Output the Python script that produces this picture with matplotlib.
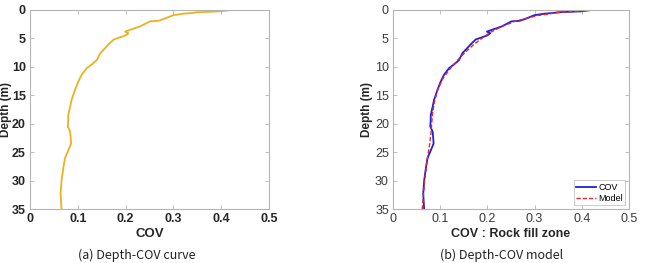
import matplotlib.pyplot as plt

# measured COV vs depth (rock fill zone)
cov_depth = [0, 0.24, 0.4, 0.5, 0.65, 0.9, 1.6, 1.9, 2.0, 2.3, 2.9, 3.5, 3.8, 4.1, 4.5,
             4.9, 5.2, 6.1, 7.6, 8.8, 9.6, 10.2, 11.4, 12.6, 14.1, 15.8, 17.0, 18.5,
             19.3, 20.5, 21.4, 22.3, 23.5, 24.7, 26.1, 27.6, 30.0, 32.3, 35]
cov_value = [0.421, 0.398, 0.349, 0.342, 0.321, 0.300, 0.279, 0.269, 0.251, 0.244,
             0.230, 0.209, 0.199, 0.206, 0.199, 0.185, 0.175, 0.164, 0.147, 0.140,
             0.129, 0.119, 0.108, 0.101, 0.094, 0.087, 0.084, 0.080, 0.080, 0.079,
             0.084, 0.085, 0.086, 0.080, 0.073, 0.070, 0.066, 0.064, 0.066]

# fitted model
model_depth = [0, 0.5, 1, 2, 3, 4, 5, 6, 8, 10, 12, 14, 16, 18, 20, 22, 24, 26, 28, 30, 32, 35]
model_value = [0.42, 0.345, 0.305, 0.258, 0.228, 0.205, 0.188, 0.172, 0.146, 0.124, 0.106,
               0.095, 0.088, 0.084, 0.082, 0.080, 0.077, 0.073, 0.070, 0.067, 0.065, 0.062]

xticks = [0, 0.1, 0.2, 0.3, 0.4, 0.5]
yticks = [0, 5, 10, 15, 20, 25, 30, 35]

plt.rcParams['font.family'] = ['Liberation Sans', 'DejaVu Sans']

fig = plt.figure(figsize=(6.45, 2.63), dpi=100)
W, H = 645, 263
ax1 = fig.add_axes([30 / W, 1 - 209 / H, 239 / W, 199 / H])
ax2 = fig.add_axes([393 / W, 1 - 209 / H, 236 / W, 199 / H])


def style(ax, bold_ticks, label_x):
    ax.set_xlim(0, 0.5)
    ax.set_ylim(35, 0)
    ax.set_xticks(xticks)
    ax.set_xticklabels(["0", "0.1", "0.2", "0.3", "0.4", "0.5"])
    ax.set_yticks(yticks)
    for s in ax.spines.values():
        s.set_color('#b4b4b4')
        s.set_linewidth(0.8)
    ax.tick_params(direction='in', length=3, width=0.6, color='#b4b4b4',
                   top=True, right=True, labelsize=9, pad=3,
                   labelcolor='#262626' if bold_ticks else '#3a3a3a')
    for lab in ax.get_xticklabels() + ax.get_yticklabels():
        lab.set_fontweight('bold' if bold_ticks else 'normal')
    ax.set_ylabel('Depth (m)', fontsize=8.5, fontweight='bold', color='#262626')
    ax.yaxis.set_label_coords(label_x, 0.5)


ax1.plot(cov_value, cov_depth, color='#EDB120', lw=1.3)
style(ax1, True, -18 / 239)
ax1.set_xlabel('COV', fontsize=9.5, fontweight='bold', color='#262626', labelpad=2)

ax2.plot(cov_value, cov_depth, color='#1f1fd8', lw=1.3, label='COV')
ax2.plot(model_value, model_depth, color='#e8262a', lw=1.0, ls=(0, (3, 1.5)), label='Model')
style(ax2, False, -20 / 236)
ax2.set_xlabel('COV : Rock fill zone', fontsize=9, fontweight='bold', color='#262626', labelpad=2)
leg = ax2.legend(loc='lower right', fontsize=6.5, frameon=True, fancybox=False,
                 borderpad=0.3, handlelength=2.2, handletextpad=0.2, borderaxespad=0.4,
                 labelspacing=0.2)
leg.get_frame().set_edgecolor('#b4b4b4')
leg.get_frame().set_linewidth(0.6)

fig.text(137 / W, 1 - 255 / H, '(a) Depth-COV curve', ha='center', va='center',
         fontsize=9, family=['Noto Sans CJK KR', 'DejaVu Sans'], color='#222222')
fig.text(502 / W, 1 - 255 / H, '(b) Depth-COV model', ha='center', va='center',
         fontsize=9, family=['Noto Sans CJK KR', 'DejaVu Sans'], color='#222222')

fig.savefig('out.png', dpi=100)
